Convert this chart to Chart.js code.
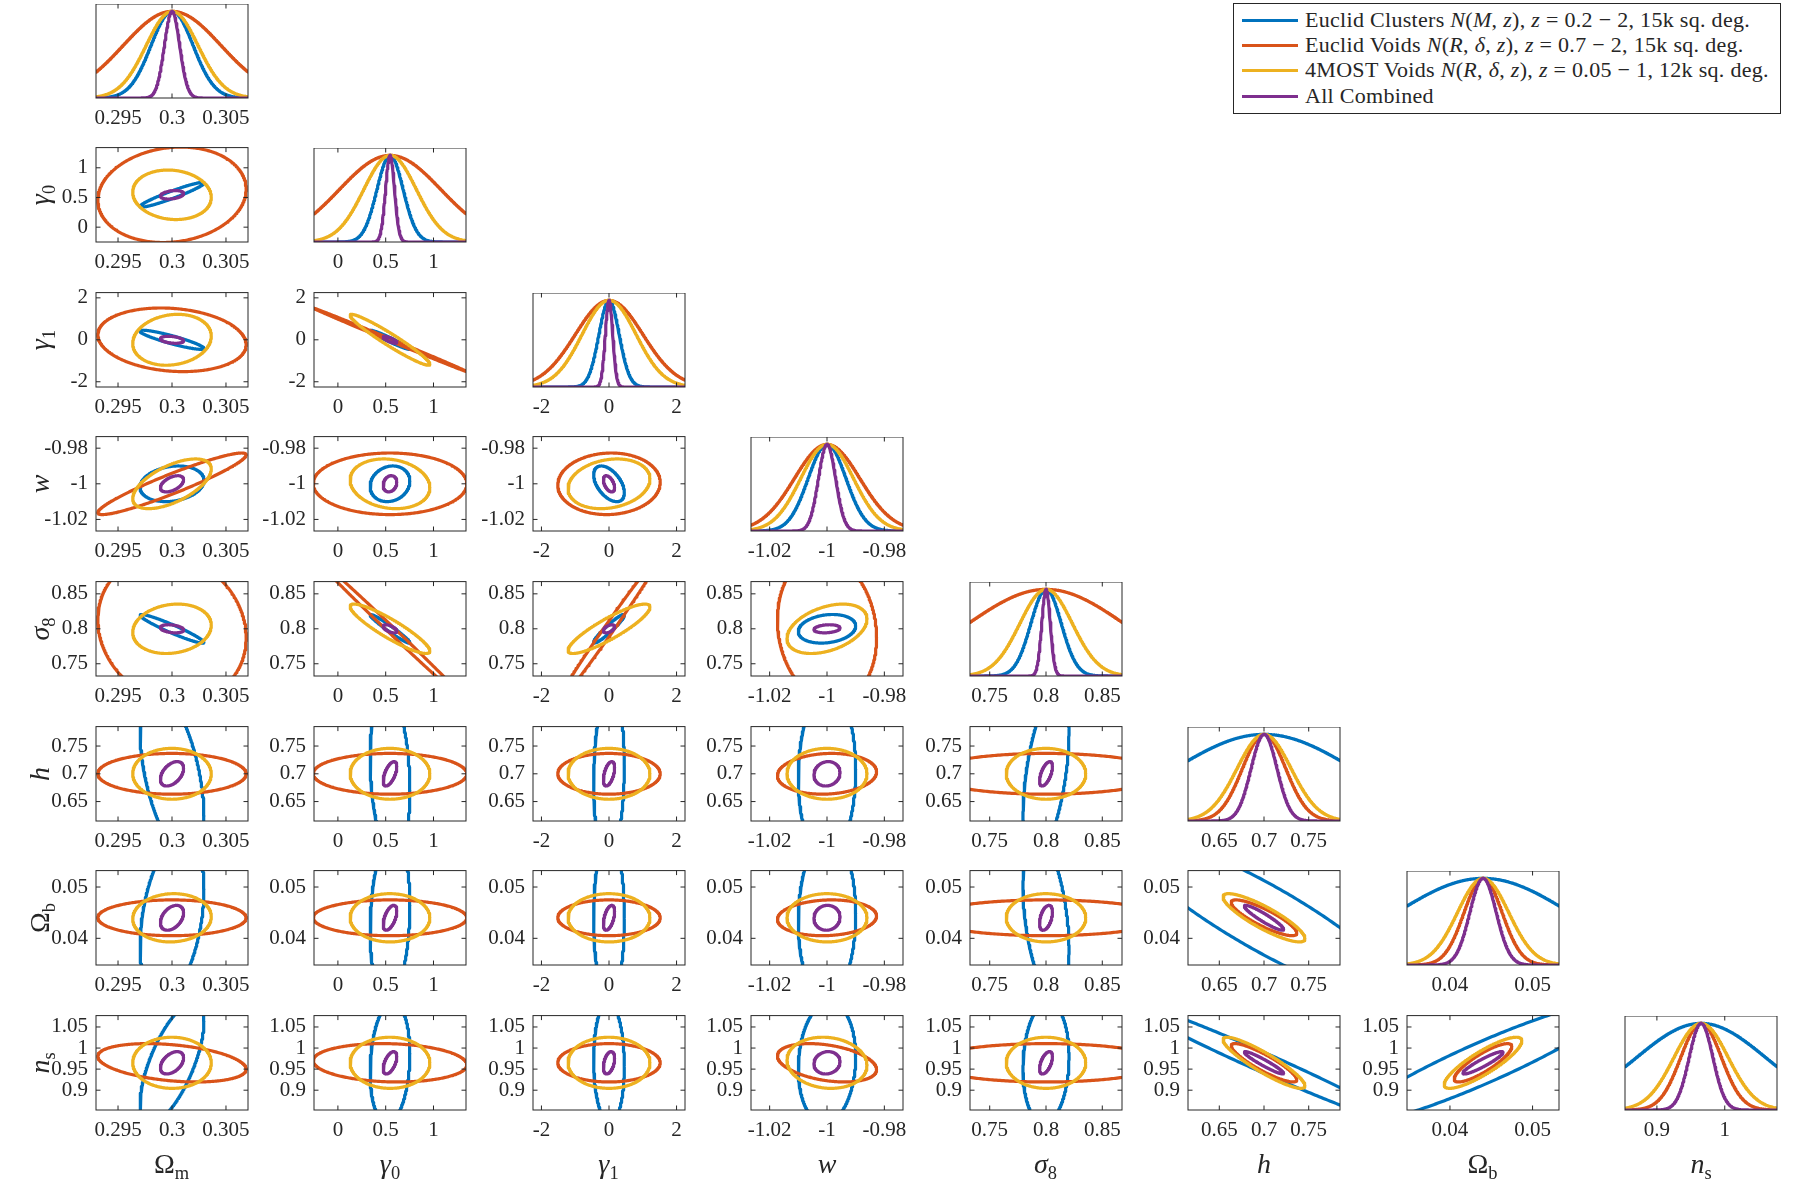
<!DOCTYPE html>
<html>
<head>
<meta charset="utf-8">
<script src="https://cdn.jsdelivr.net/npm/chart.js@4.4.1/dist/chart.umd.min.js"></script>
<style>
  html, body { margin: 0; padding: 0; background: #fff; }
  #fig { position: relative; width: 1807px; height: 1179px; overflow: hidden;
         font-family: "Liberation Serif", "DejaVu Serif", serif; color: #262626; }
  canvas.panel { position: absolute; }
  .xlab, .ylab { position: absolute; font-size: 28px; white-space: nowrap; line-height: 1; }
  .xlab { transform: translate(-50%, -50%); }
  .ylab { transform: translate(-50%, -50%) rotate(-90deg); }
  sub { font-size: 66%; vertical-align: -0.3em; line-height: 0; }
  #legend { position: absolute; left: 1233px; top: 3px; width: 548px; height: 111px;
            border: 1px solid #262626; background: #fff; box-sizing: border-box; }
  .entry { position: absolute; left: 0; height: 24px; font-size: 22px; line-height: 24px;
           letter-spacing: 0.3px; white-space: nowrap; }
  .swatch { position: absolute; left: 8px; top: 11px; width: 56px; height: 3px; }
  .etext { position: absolute; left: 71px; top: 0; }
</style>
</head>
<body>
<div id="fig">
  <div id="legend"></div>
</div>
<script>
// parameters, in plotting order
const paramLabels = ['Ω<sub>m</sub>', '<i>γ</i><sub>0</sub>', '<i>γ</i><sub>1</sub>', '<i>w</i>',
  '<i>σ</i><sub>8</sub>', '<i>h</i>', 'Ω<sub>b</sub>', '<i>n</i><sub>s</sub>'];
const fiducial = [0.3, 0.545, 0, -1, 0.8, 0.7, 0.044, 0.965];
const axisMin = [0.29296, -0.25, -2.25, -1.0265, 0.7325, 0.615, 0.0348, 0.853];
const axisMax = [0.30704, 1.34, 2.25, -0.9735, 0.8675, 0.785, 0.0532, 1.077];
const xTicks = [[0.295, 0.3, 0.305], [0, 0.5, 1], [-2, 0, 2], [-1.02, -1, -0.98],
  [0.75, 0.8, 0.85], [0.65, 0.7, 0.75], [0.04, 0.05], [0.9, 1]];
const yTicks = [[0.295, 0.3, 0.305], [0, 0.5, 1], [-2, 0, 2], [-0.98, -1, -1.02],
  [0.75, 0.8, 0.85], [0.65, 0.7, 0.75], [0.04, 0.05], [0.9, 0.95, 1, 1.05]];

// marginal 1-sigma errors per survey
const sigClusters = [0.00195, 0.137, 0.30, 0.0066, 0.0135, 0.10, 0.0105, 0.095];
const sigVoids = [0.00453, 0.53, 1.0, 0.0114, 0.069, 0.0242, 0.0023, 0.030];
const sig4most = [0.0024, 0.275, 0.80, 0.0092, 0.0233, 0.0302, 0.0031, 0.040];
const sigCombined = [0.00071, 0.047, 0.11, 0.0030, 0.0038, 0.0145, 0.0016, 0.0175];

// correlation coefficients, row j holds (j, 0..j-1)
const rhoClusters = [
  [],
  [0.95],
  [-0.9, -0.97],
  [0.2, 0.15, -0.5],
  [-0.95, -0.97, 0.95, 0.2],
  [-0.5, -0.2, 0.1, 0.05, 0.5],
  [0.35, 0.15, 0.0, 0.05, -0.4, -0.89],
  [0.68, 0.15, -0.05, 0.1, 0.1, -0.985, 0.93],
];
const rhoVoids = [
  [],
  [0.12],
  [-0.15, -0.9993],
  [0.94, 0.0, 0.05],
  [-0.12, -0.998, 0.994, -0.12],
  [0.0, 0.0, 0.0, 0.1, 0.0],
  [0.0, 0.0, 0.0, 0.1, 0.0, -0.85],
  [-0.33, -0.1, 0.0, -0.35, 0.0, -0.88, 0.85],
];
const rho4most = [
  [],
  [-0.1],
  [0.15, -0.96],
  [0.6, -0.15, 0.2],
  [0.15, -0.9, 0.88, 0.4],
  [0.0, 0.0, 0.0, 0.0, 0.0],
  [0.05, 0.0, 0.0, 0.0, 0.0, -0.86],
  [0.0, 0.0, 0.0, -0.1, 0.0, -0.9, 0.86],
];
const rhoCombined = [
  [],
  [0.3],
  [-0.3, -0.8],
  [0.5, 0.2, -0.5],
  [-0.3, -0.6, 0.5, 0.2],
  [0.45, 0.6, 0.5, 0.1, 0.6],
  [0.4, 0.55, 0.5, 0.05, 0.45, -0.93],
  [0.45, 0.55, 0.4, 0.1, 0.55, -0.95, 0.93],
];

const surveys = [
  { html: 'Euclid Clusters <i>N</i>(<i>M</i>, <i>z</i>), <i>z</i> = 0.2 − 2, 15k sq. deg.', color: '#0072BD', sig: sigClusters, rho: rhoClusters },
  { html: 'Euclid Voids <i>N</i>(<i>R</i>, <i>δ</i>, <i>z</i>), <i>z</i> = 0.7 − 2, 15k sq. deg.', color: '#D95319', sig: sigVoids, rho: rhoVoids },
  { html: '4MOST Voids <i>N</i>(<i>R</i>, <i>δ</i>, <i>z</i>), <i>z</i> = 0.05 − 1, 12k sq. deg.', color: '#EDB120', sig: sig4most, rho: rho4most },
  { html: 'All Combined', color: '#7E2F8E', sig: sigCombined, rho: rhoCombined },
];

const CHI = Math.sqrt(2.3); // 68% contour for two parameters
const INK = '#262626';
const TICK_FONT = { family: '"Liberation Serif", "DejaVu Serif", serif', size: 21 };

// panel geometry
const colLeft0 = 95.5, colStep = 218.5, rowTop0 = 3.5, rowStep = 144.6;
const panelW = 152, panelH = 94;
const padL = 90, padR = 30, padB = 40;

function gaussianPoints(s, p) {
  const pts = [];
  const n = 400;
  for (let k = 0; k <= n; k++) {
    const x = axisMin[p] + (axisMax[p] - axisMin[p]) * k / n;
    const d = (x - fiducial[p]) / s;
    pts.push({ x, y: Math.exp(-0.5 * d * d) });
  }
  return pts;
}

function ellipsePoints(sx, sy, rho, px, py) {
  const pts = [];
  const n = 360;
  const q = Math.sqrt(1 - rho * rho);
  for (let k = 0; k <= n; k++) {
    const t = 2 * Math.PI * k / n;
    const u = CHI * Math.cos(t);
    const v = CHI * (rho * Math.cos(t) + q * Math.sin(t));
    pts.push({ x: fiducial[px] + sx * u, y: fiducial[py] + sy * v });
  }
  return pts;
}

const frameTicks = {
  id: 'frameTicks',
  afterDatasetsDraw(chart, args, opts) {
    const { ctx, chartArea: a, scales } = chart;
    const len = 4.5;
    ctx.save();
    ctx.strokeStyle = INK;
    ctx.lineWidth = 1;
    ctx.beginPath();
    (opts.xt || []).forEach((v) => {
      const p = scales.x.getPixelForValue(v);
      ctx.moveTo(p, a.bottom); ctx.lineTo(p, a.bottom - len);
      ctx.moveTo(p, a.top); ctx.lineTo(p, a.top + len);
    });
    (opts.yt || []).forEach((v) => {
      const p = scales.y.getPixelForValue(v);
      ctx.moveTo(a.left, p); ctx.lineTo(a.left + len, p);
      ctx.moveTo(a.right, p); ctx.lineTo(a.right - len, p);
    });
    ctx.stroke();
    ctx.strokeRect(a.left, a.top, a.right - a.left, a.bottom - a.top);
    ctx.restore();
  },
};

function axisOptions(min, max, ticks, showLabels, isX) {
  return {
    type: 'linear',
    min, max,
    afterBuildTicks: (scale) => { scale.ticks = ticks.map((v) => ({ value: v })); },
    afterFit: (scale) => { if (isX) scale.height = padB; else scale.width = padL; },
    ticks: {
      display: showLabels,
      autoSkip: false, maxRotation: 0, minRotation: 0,
      padding: isX ? 8 : 8,
      color: INK, font: TICK_FONT,
      callback: (v) => String(v),
    },
    grid: { display: false, drawTicks: false },
    border: { display: false },
  };
}

const fig = document.getElementById('fig');

function buildChart(canvas, r, c, height) {
  const diag = r === c;
  canvas.width = padL + panelW + padR;
  canvas.height = height;
  canvas.style.width = canvas.width + 'px';
  canvas.style.height = height + 'px';

  const datasets = surveys.map((s, k) => ({
    label: s.html,
    data: diag ? gaussianPoints(s.sig[c], c)
               : ellipsePoints(s.sig[c], s.sig[r], s.rho[r][c], c, r),
    borderColor: s.color,
    borderWidth: 3.2,
    borderJoinStyle: 'round',
    borderCapStyle: 'round',
    showLine: true,
    pointRadius: 0,
    fill: false,
    tension: 0,
    order: surveys.length - k,
  }));

  return new Chart(canvas, {
    type: 'scatter',
    data: { datasets },
    options: {
      responsive: false,
      maintainAspectRatio: false,
      animation: false,
      devicePixelRatio: 1,
      events: [],
      layout: { autoPadding: false, padding: { left: 0, top: 0, right: padR, bottom: 0 } },
      scales: {
        x: axisOptions(axisMin[c], axisMax[c], xTicks[c], true, true),
        y: diag ? axisOptions(0, 1.085, [], false, false)
                : axisOptions(axisMin[r], axisMax[r], yTicks[r], true, false),
      },
      plugins: {
        legend: { display: false },
        tooltip: { enabled: false },
        frameTicks: { xt: xTicks[c], yt: diag ? [] : yTicks[r] },
      },
    },
    plugins: [frameTicks],
  });
}

function makePanel(r, c) {
  const left = Math.round(colLeft0 + colStep * c);
  const top = Math.round(rowTop0 + rowStep * r);
  const canvas = document.createElement('canvas');
  canvas.className = 'panel';
  canvas.style.left = (left - padL) + 'px';
  fig.appendChild(canvas);

  // Chart.js keeps room above the plot for the top tick label; rebuild so the plot is exactly panelH tall
  let chart = buildChart(canvas, r, c, 12 + panelH + padB);
  let areaTop = chart.chartArea.top;
  const wantH = Math.round(areaTop + panelH + padB);
  if (wantH !== canvas.height) {
    chart.destroy();
    chart = buildChart(canvas, r, c, wantH);
    areaTop = chart.chartArea.top;
  }
  canvas.style.top = (top - areaTop) + 'px';
}

for (let r = 0; r < 8; r++) {
  for (let c = 0; c <= r; c++) makePanel(r, c);
}

// axis titles
for (let c = 0; c < 8; c++) {
  const d = document.createElement('div');
  d.className = 'xlab';
  d.innerHTML = paramLabels[c];
  d.style.left = (colLeft0 + colStep * c + panelW / 2) + 'px';
  d.style.top = '1164px';
  fig.appendChild(d);
}
for (let r = 1; r < 8; r++) {
  const d = document.createElement('div');
  d.className = 'ylab';
  d.innerHTML = paramLabels[r];
  d.style.left = '40px';
  d.style.top = (rowTop0 + rowStep * r + panelH / 2) + 'px';
  fig.appendChild(d);
}

// legend
const legend = document.getElementById('legend');
surveys.forEach((s, k) => {
  const e = document.createElement('div');
  e.className = 'entry';
  e.style.top = (3.6 + 25.3 * k) + 'px';
  e.innerHTML = `<span class="swatch" style="background:${s.color}"></span><span class="etext">${s.html}</span>`;
  legend.appendChild(e);
});
</script>
</body>
</html>
